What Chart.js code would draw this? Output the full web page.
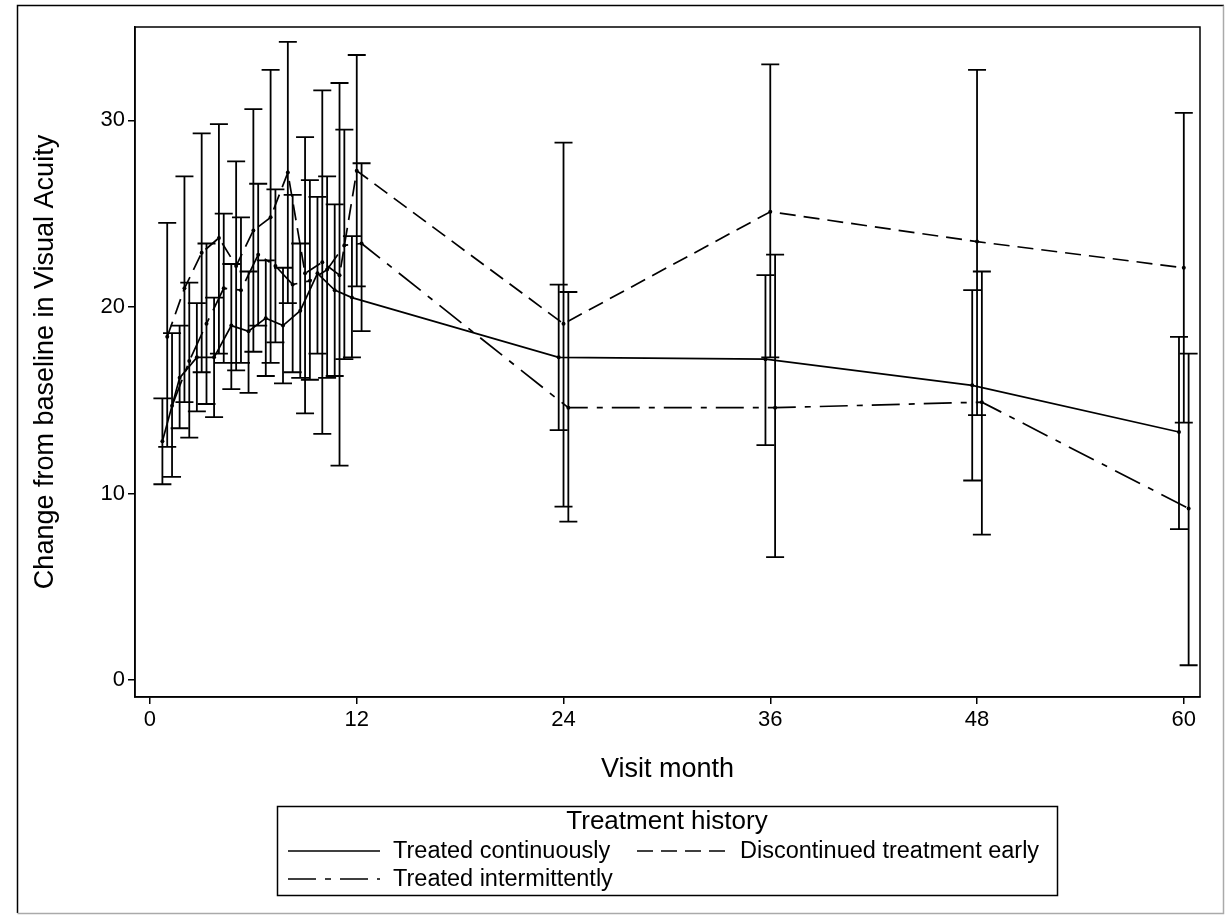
<!DOCTYPE html>
<html>
<head>
<meta charset="utf-8">
<script src="https://cdn.jsdelivr.net/npm/chart.js@4.4.1/dist/chart.umd.min.js"></script>
<style>
html, body { margin: 0; padding: 0; background: #fff; }
</style>
</head>
<body>
<canvas id="myChart" width="1225" height="915"></canvas>
<script>
// visit months and axis ticks
var months = [1, 2, 3, 4, 5, 6, 7, 8, 9, 10, 11, 12, 24, 36, 48, 60];
var xTicks = [0, 12, 24, 36, 48, 60];
var yTicks = [0, 10, 20, 30];

// Treated continuously
var contMean = [12.8, 16.2, 17.3, 17.3, 19.0, 18.7, 19.4, 19.0, 19.8, 21.8, 20.9, 20.5, 17.3, 17.2, 15.8, 13.3];
var contLo   = [10.5, 13.5, 14.4, 14.1, 15.6, 15.4, 16.3, 15.9, 16.2, 17.5, 16.3, 17.3, 13.4, 12.6, 10.7, 8.1];
var contHi   = [15.1, 19.0, 20.2, 20.5, 22.3, 21.9, 22.5, 22.1, 23.4, 25.9, 25.5, 23.8, 21.2, 21.7, 20.9, 18.4];

// Discontinued treatment early
var discMean = [18.4, 21.0, 22.9, 23.7, 22.2, 24.1, 24.8, 27.2, 21.8, 22.4, 21.7, 27.3, 19.1, 25.1, 23.5, 22.1];
var discLo   = [12.5, 14.9, 16.5, 17.5, 16.6, 17.6, 17.0, 20.2, 14.3, 13.2, 11.5, 21.1, 9.3, 17.3, 14.2, 13.8];
var discHi   = [24.5, 27.0, 29.3, 29.8, 27.8, 30.6, 32.7, 34.2, 29.1, 31.6, 32.0, 33.5, 28.8, 33.0, 32.7, 30.4];

// Treated intermittently
var intMean = [14.7, 17.1, 19.1, 21.0, 20.9, 22.8, 22.2, 21.2, 21.4, 22.0, 23.3, 23.4, 14.6, 14.6, 14.9, 9.2];
var intLo   = [10.9, 13.0, 14.8, 17.0, 17.0, 19.0, 18.1, 16.5, 16.1, 16.2, 17.2, 18.7, 8.5, 6.6, 7.8, 0.8];
var intHi   = [18.6, 21.3, 23.4, 25.0, 24.8, 26.6, 26.3, 26.0, 26.8, 27.0, 29.5, 27.7, 20.8, 22.8, 21.9, 17.5];

var FONT = '"Liberation Sans", Arial, sans-serif';
var dashDisc = [16, 8];
var dashInt = [28, 9, 6, 9];

// small horizontal shift so the three groups don't overlap
function pts(means, shift) {
    return months.map(function (m, i) { return { x: m + shift, y: means[i] }; });
}

function makeSet(label, means, lo, hi, shift, dash) {
    return {
        label: label,
        data: pts(means, shift),
        lo: lo,
        hi: hi,
        borderColor: '#000',
        backgroundColor: '#000',
        borderWidth: 1.7,
        borderDash: dash,
        pointRadius: 2,
        pointBorderWidth: 0,
        pointBackgroundColor: '#000',
        tension: 0,
        fill: false
    };
}

var errorBars = {
    id: 'errorBars',
    afterDatasetsDraw: function (chart) {
        var ctx = chart.ctx, xs = chart.scales.x, ys = chart.scales.y;
        ctx.save();
        ctx.strokeStyle = '#000';
        ctx.lineWidth = 1.8;
        ctx.setLineDash([]);
        chart.data.datasets.forEach(function (ds) {
            ds.data.forEach(function (p, i) {
                var x = xs.getPixelForValue(p.x);
                var yl = ys.getPixelForValue(ds.lo[i]);
                var yh = ys.getPixelForValue(ds.hi[i]);
                ctx.beginPath();
                ctx.moveTo(x, yl); ctx.lineTo(x, yh);
                ctx.moveTo(x - 9, yl); ctx.lineTo(x + 9, yl);
                ctx.moveTo(x - 9, yh); ctx.lineTo(x + 9, yh);
                ctx.stroke();
            });
        });
        ctx.restore();
    }
};

var frames = {
    id: 'frames',
    afterDraw: function (chart) {
        var ctx = chart.ctx, a = chart.chartArea;
        ctx.save();
        ctx.setLineDash([]);
        ctx.strokeStyle = '#000';
        ctx.lineWidth = 1.5;
        ctx.strokeRect(a.left, a.top, a.right - a.left, a.bottom - a.top);

        // outer border of the figure
        ctx.beginPath();
        ctx.moveTo(17.5, 913); ctx.lineTo(17.5, 5.5); ctx.lineTo(1224, 5.5);
        ctx.stroke();
        ctx.strokeStyle = '#aaa';
        ctx.beginPath();
        ctx.moveTo(1223.5, 5.5); ctx.lineTo(1223.5, 913.5); ctx.lineTo(17.5, 913.5);
        ctx.stroke();

        // legend
        var names = chart.data.datasets.map(function (d) { return d.label; });
        var dashes = chart.data.datasets.map(function (d) { return d.borderDash; });
        ctx.strokeStyle = '#000';
        ctx.lineWidth = 1.5;
        ctx.strokeRect(277.5, 806.5, 780, 89);
        ctx.fillStyle = '#000';
        ctx.textBaseline = 'middle';
        ctx.textAlign = 'center';
        ctx.font = '26px ' + FONT;
        ctx.fillText('Treatment history', 667, 822);
        ctx.textAlign = 'left';
        ctx.font = '23.5px ' + FONT;
        var items = [
            { sx: 288, ex: 380, y: 851, tx: 393 },
            { sx: 637, ex: 729, y: 851, tx: 740 },
            { sx: 288, ex: 380, y: 879, tx: 393 }
        ];
        items.forEach(function (it, i) {
            ctx.setLineDash(dashes[i]);
            ctx.lineWidth = 1.7;
            ctx.beginPath();
            ctx.moveTo(it.sx, it.y); ctx.lineTo(it.ex, it.y);
            ctx.stroke();
            ctx.setLineDash([]);
            ctx.fillText(names[i], it.tx, it.y + 1);
        });
        ctx.restore();
    }
};

var ctx = document.getElementById('myChart').getContext('2d');
var chart = new Chart(ctx, {
    type: 'line',
    data: {
        datasets: [
            makeSet('Treated continuously', contMean, contLo, contHi, -0.28, []),
            makeSet('Discontinued treatment early', discMean, discLo, discHi, 0, dashDisc),
            makeSet('Treated intermittently', intMean, intLo, intHi, 0.28, dashInt)
        ]
    },
    options: {
        responsive: false,
        animation: false,
        layout: { padding: { top: 27, right: 25, left: 0, bottom: 0 } },
        plugins: {
            legend: { display: false },
            tooltip: { enabled: false }
        },
        scales: {
            x: {
                type: 'linear',
                min: -0.87,
                max: 60.94,
                afterFit: function (s) { s.height = 218; },
                afterBuildTicks: function (s) { s.ticks = xTicks.map(function (v) { return { value: v }; }); },
                grid: { drawOnChartArea: false, drawTicks: true, tickLength: 7, color: '#000', lineWidth: 1.5 },
                border: { display: true, color: '#000', width: 1.5 },
                ticks: { color: '#000', padding: 3, font: { family: FONT, size: 22 }, maxRotation: 0 },
                title: { display: true, text: 'Visit month', color: '#000', font: { family: FONT, size: 27 }, padding: { bottom: 129 } }
            },
            y: {
                type: 'linear',
                min: -0.9,
                max: 35,
                afterFit: function (s) { s.width = 135; },
                afterBuildTicks: function (s) { s.ticks = yTicks.map(function (v) { return { value: v }; }); },
                grid: { drawOnChartArea: false, drawTicks: true, tickLength: 7, color: '#000', lineWidth: 1.5 },
                border: { display: true, color: '#000', width: 1.5 },
                ticks: { color: '#000', padding: 3, font: { family: FONT, size: 22 } },
                title: { display: true, text: 'Change from baseline in Visual Acuity', color: '#000', font: { family: FONT, size: 27 }, padding: { top: 29 } }
            }
        }
    },
    plugins: [errorBars, frames]
});
</script>
</body>
</html>
